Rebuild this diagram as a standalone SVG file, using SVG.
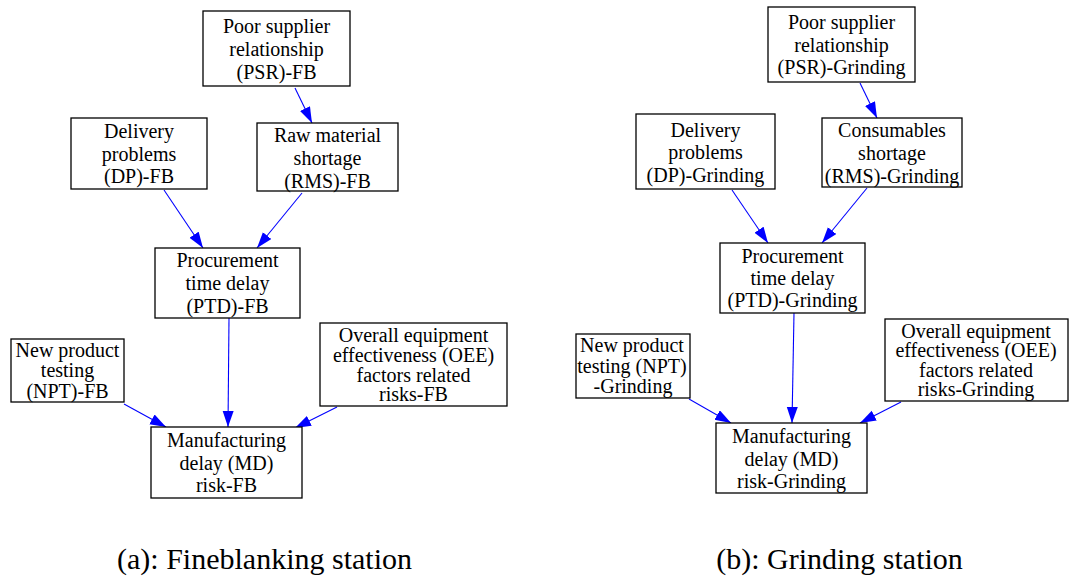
<svg xmlns="http://www.w3.org/2000/svg" width="1091" height="578" viewBox="0 0 1091 578">
  <style>
    .box { fill: #ffffff; stroke: #000000; stroke-width: 1.3; }
    .lbl { font-size: 20px; fill: #000000; text-anchor: middle; }
    .cap { font-size: 30px; fill: #000000; text-anchor: middle; }
    .edge { stroke: #0000ff; stroke-width: 1.1; fill: none; marker-end: url(#arrow); }
  </style>
  <defs>
    <marker id="arrow" markerUnits="userSpaceOnUse" markerWidth="17" markerHeight="12" refX="16" refY="5.5" orient="auto">
      <path d="M0,0 L16,5.5 L0,11 Z" fill="#0000ff"/>
    </marker>
  </defs>
  <rect width="1091" height="578" fill="#ffffff"/>

  <g font-family="'Liberation Serif', 'Times New Roman', 'DejaVu Serif', serif">
  <!-- (a) Fineblanking station -->
  <g id="connectors-fb">
    <line class="edge" x1="295" y1="88" x2="312" y2="123"/>
    <line class="edge" x1="164" y1="190" x2="203" y2="248"/>
    <line class="edge" x1="302" y1="193" x2="257" y2="248"/>
    <line class="edge" x1="229" y1="318" x2="228" y2="427"/>
    <line class="edge" x1="124" y1="404" x2="166" y2="427"/>
    <line class="edge" x1="337" y1="407" x2="295" y2="428"/>
  </g>
  <g id="psr-fb">
    <rect class="box" x="203" y="11" width="147" height="75"/>
    <text class="lbl" x="276.5" y="33">Poor supplier</text>
    <text class="lbl" x="276.5" y="56">relationship</text>
    <text class="lbl" x="276.5" y="79">(PSR)-FB</text>
  </g>
  <g id="dp-fb">
    <rect class="box" x="71" y="118" width="136" height="71"/>
    <text class="lbl" x="139" y="138">Delivery</text>
    <text class="lbl" x="139" y="161">problems</text>
    <text class="lbl" x="139" y="183">(DP)-FB</text>
  </g>
  <g id="rms-fb">
    <rect class="box" x="257" y="123" width="141" height="68"/>
    <text class="lbl" x="327.5" y="142">Raw material</text>
    <text class="lbl" x="327.5" y="165">shortage</text>
    <text class="lbl" x="327.5" y="188">(RMS)-FB</text>
  </g>
  <g id="ptd-fb">
    <rect class="box" x="155" y="248" width="145" height="70"/>
    <text class="lbl" x="227.5" y="267">Procurement</text>
    <text class="lbl" x="227.5" y="290">time delay</text>
    <text class="lbl" x="227.5" y="313">(PTD)-FB</text>
  </g>
  <g id="npt-fb">
    <rect class="box" x="11" y="339" width="113" height="63"/>
    <text class="lbl" x="67.5" y="357">New product</text>
    <text class="lbl" x="67.5" y="377">testing</text>
    <text class="lbl" x="67.5" y="398">(NPT)-FB</text>
  </g>
  <g id="oee-fb">
    <rect class="box" x="320" y="323" width="187" height="83"/>
    <text class="lbl" x="413.5" y="342">Overall equipment</text>
    <text class="lbl" x="413.5" y="362">effectiveness (OEE)</text>
    <text class="lbl" x="413.5" y="382">factors related</text>
    <text class="lbl" x="413.5" y="401">risks-FB</text>
  </g>
  <g id="md-fb">
    <rect class="box" x="151" y="427" width="151" height="71"/>
    <text class="lbl" x="226.5" y="447">Manufacturing</text>
    <text class="lbl" x="226.5" y="470">delay (MD)</text>
    <text class="lbl" x="226.5" y="492">risk-FB</text>
  </g>
  <text class="cap" x="264.5" y="569">(a): Fineblanking station</text>

  <!-- (b) Grinding station -->
  <g id="connectors-grinding">
    <line class="edge" x1="860" y1="83" x2="877" y2="118"/>
    <line class="edge" x1="732" y1="190" x2="768" y2="243"/>
    <line class="edge" x1="867" y1="188" x2="822" y2="243"/>
    <line class="edge" x1="794" y1="313" x2="792" y2="423"/>
    <line class="edge" x1="689" y1="399" x2="731" y2="423"/>
    <line class="edge" x1="901" y1="402" x2="860" y2="423"/>
  </g>
  <g id="psr-grinding">
    <rect class="box" x="768" y="7" width="147" height="75"/>
    <text class="lbl" x="841.5" y="29">Poor supplier</text>
    <text class="lbl" x="841.5" y="52">relationship</text>
    <text class="lbl" x="841.5" y="74">(PSR)-Grinding</text>
  </g>
  <g id="dp-grinding">
    <rect class="box" x="636" y="114" width="139" height="75"/>
    <text class="lbl" x="705.5" y="137">Delivery</text>
    <text class="lbl" x="705.5" y="159">problems</text>
    <text class="lbl" x="705.5" y="182">(DP)-Grinding</text>
  </g>
  <g id="rms-grinding">
    <rect class="box" x="822" y="118" width="140" height="69"/>
    <text class="lbl" x="892" y="137">Consumables</text>
    <text class="lbl" x="892" y="160">shortage</text>
    <text class="lbl" x="892" y="183">(RMS)-Grinding</text>
  </g>
  <g id="ptd-grinding">
    <rect class="box" x="720" y="243" width="145" height="70"/>
    <text class="lbl" x="792.5" y="263">Procurement</text>
    <text class="lbl" x="792.5" y="285">time delay</text>
    <text class="lbl" x="792.5" y="307">(PTD)-Grinding</text>
  </g>
  <g id="npt-grinding">
    <rect class="box" x="576" y="334" width="114" height="64"/>
    <text class="lbl" x="632" y="352">New product</text>
    <text class="lbl" x="632" y="373">testing (NPT)</text>
    <text class="lbl" x="633" y="393">-Grinding</text>
  </g>
  <g id="oee-grinding">
    <rect class="box" x="885" y="319" width="183" height="82"/>
    <text class="lbl" x="976" y="338">Overall equipment</text>
    <text class="lbl" x="976" y="357">effectiveness (OEE)</text>
    <text class="lbl" x="976" y="377">factors related</text>
    <text class="lbl" x="976" y="396">risks-Grinding</text>
  </g>
  <g id="md-grinding">
    <rect class="box" x="716" y="423" width="151" height="70"/>
    <text class="lbl" x="791.5" y="443">Manufacturing</text>
    <text class="lbl" x="791.5" y="466">delay (MD)</text>
    <text class="lbl" x="791.5" y="488">risk-Grinding</text>
  </g>
  <text class="cap" x="839.5" y="569">(b): Grinding station</text>
  </g>
</svg>
